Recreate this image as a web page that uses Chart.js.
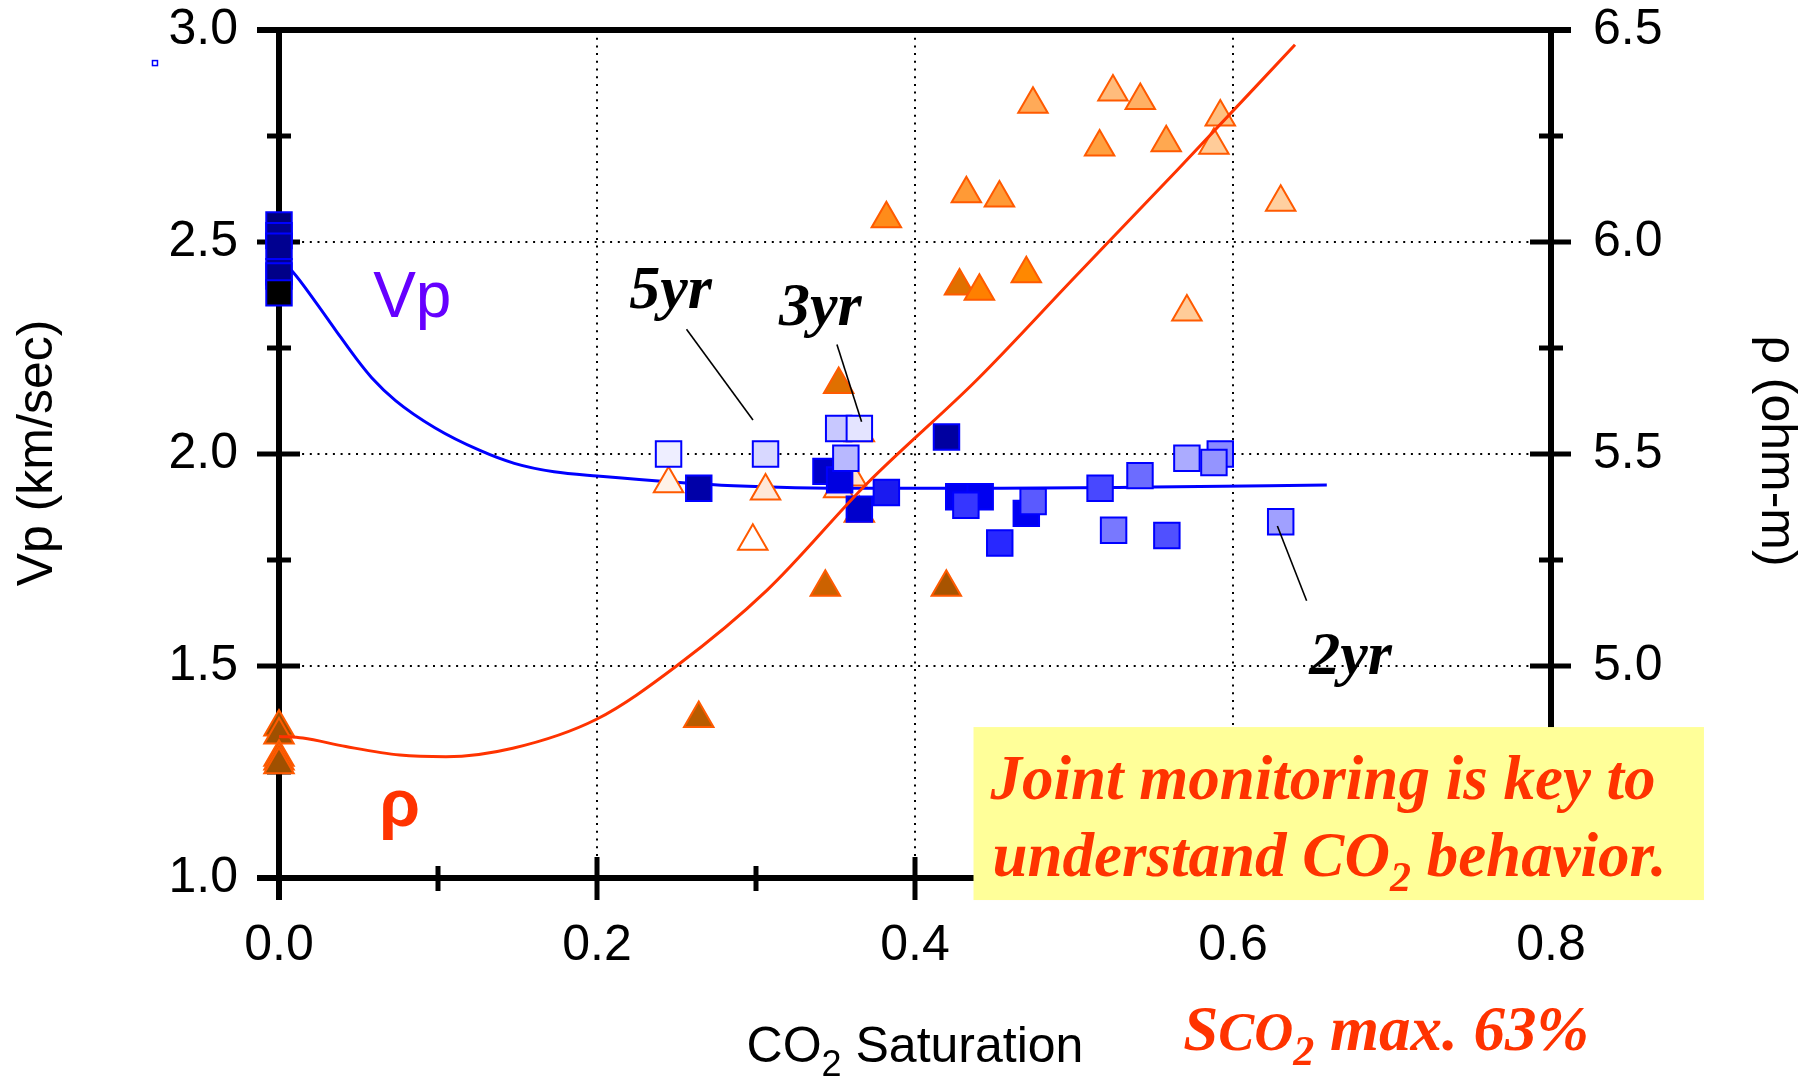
<!DOCTYPE html>
<html>
<head>
<meta charset="utf-8">
<title>Vp and resistivity vs CO2 saturation</title>
<script src="https://cdn.jsdelivr.net/npm/chart.js@4.4.1/dist/chart.umd.min.js"></script>
<style>
  html, body { margin: 0; padding: 0; background: #fff; }
  #wrap { width: 1814px; height: 1077px; }
</style>
</head>
<body>
<div id="wrap"><canvas id="chart" width="1814" height="1077"></canvas></div>
<script>
// ── Data ──────────────────────────────────────────────────────────────────────
// fitted curves
const vpCurveSat = [0, 0.0086, 0.0235, 0.036, 0.0484, 0.0583, 0.0733, 0.098, 0.126, 0.148, 0.173, 0.200, 0.286, 0.370, 0.454, 0.550, 0.659];
const vpCurve    = [2.46, 2.43, 2.356, 2.29, 2.226, 2.18, 2.126, 2.062, 2.009, 1.978, 1.958, 1.948, 1.925, 1.919, 1.919, 1.922, 1.927];
const rhoCurveSat = [0, 0.015, 0.042, 0.076, 0.105, 0.147, 0.200, 0.250, 0.307, 0.370, 0.439, 0.500, 0.565, 0.639];
const rhoCurve    = [4.834, 4.830, 4.810, 4.790, 4.786, 4.806, 4.875, 5.000, 5.179, 5.431, 5.675, 5.915, 6.170, 6.465];

// measured Vp (km/sec), squares
const vpSat = [0, 0, 0, 0, 0, 0,
  0.245, 0.306, 0.352, 0.365, 0.264, 0.344, 0.3526, 0.3565, 0.365, 0.382,
  0.4198, 0.4275, 0.441, 0.432, 0.4533, 0.470, 0.4743, 0.5164, 0.5415, 0.5249,
  0.5584, 0.571, 0.592, 0.588, 0.630];
const vpData = [2.54, 2.515, 2.49, 2.43, 2.42, 2.38,
  2.00, 2.00, 2.06, 2.06, 1.919, 1.959, 1.939, 1.99, 1.87, 1.909,
  2.04, 1.899, 1.899, 1.879, 1.79, 1.86, 1.888, 1.919, 1.949, 1.82,
  1.808, 1.99, 2.00, 1.98, 1.84];

// measured resistivity (ohm-m), triangles
const rhoSat = [0, 0, 0, 0, 0,
  0.245, 0.306, 0.298, 0.352, 0.360, 0.365, 0.365,
  0.3436, 0.4197, 0.264, 0.352, 0.382, 0.4323, 0.4531, 0.4742, 0.5245, 0.5417,
  0.5161, 0.558, 0.592, 0.588, 0.630, 0.428, 0.4405, 0.470, 0.571];
const rhoData = [4.856, 4.837, 4.785, 4.776, 4.767,
  5.430, 5.413, 5.294, 5.418, 5.446, 5.550, 5.360,
  5.186, 5.186, 4.876, 5.664, 6.055, 6.114, 6.104, 6.325, 6.354, 6.334,
  6.224, 6.234, 6.295, 6.228, 6.094, 5.896, 5.884, 5.925, 5.835];

// axes
const xTicks = [0, 0.2, 0.4, 0.6, 0.8];
const xMinor = [0.1, 0.3, 0.5, 0.7];
const vpTicks = [1.0, 1.5, 2.0, 2.5, 3.0];
const vpMinor = [1.25, 1.75, 2.25, 2.75];
const rhoTicks = [4.5, 5.0, 5.5, 6.0, 6.5];
const rhoMinor = [4.75, 5.25, 5.75, 6.25];

// ── Styles ────────────────────────────────────────────────────────────────────
const vpFills = ['#00007A', '#000090', '#000090', '#000090', '#000088', '#000000',
  '#EEEEFF', '#D8D8FF', '#C8C8FF', '#E4E4FF', '#0000A8', '#0000C8', '#0000E0', '#B8B8FF', '#0000CC', '#1A1AF0',
  '#0000A0', '#0000F0', '#0000F0', '#3636FF', '#2828FF', '#0000F0', '#5A5AFF', '#4848FF', '#6C6CFF', '#7878FF',
  '#5050FF', '#ABABFF', '#8A8AFF', '#9494FF', '#A0A0FF'];
const rhoFills = ['#A05000', '#A05000', '#A05000', '#A05000', '#A05000',
  '#FFF2E8', '#FFE8D8', '#FFFFFF', '#FFE8D8', '#FFE4CC', '#FFE4CC', '#FFE4CC',
  '#CC6200', '#A85400', '#B85C00', '#E07000', '#FF8C1A', '#FF9A36', '#FF9A36', '#FFAA58', '#FFBC7C', '#FFB064',
  '#FFA040', '#FFA850', '#FFC080', '#FFCC99', '#FFD0A0', '#E07000', '#FF8000', '#FF8800', '#FFCC99'];

const SANS = '"Liberation Sans", Arial, Helvetica, sans-serif';
const SERIF = '"Liberation Serif", "Times New Roman", serif';
const RED = '#FF3300';

function pts(xs, ys) { return xs.map((v, i) => ({ x: v, y: ys[i] })); }

// ── Frame: dotted grid, heavy axes, crossing ticks ───────────────────────────
const framePlugin = {
  id: 'frame',
  beforeDatasetsDraw(chart) {
    const { ctx, chartArea: a, scales } = chart;
    const sx = scales.x, sy = scales.y, sy2 = scales.y2;
    const seg = (x1, y1, x2, y2) => { ctx.beginPath(); ctx.moveTo(x1, y1); ctx.lineTo(x2, y2); ctx.stroke(); };
    ctx.save();
    ctx.strokeStyle = '#000';

    // dotted grid at interior major ticks
    ctx.lineWidth = 2;
    ctx.setLineDash([2, 5.7]);
    xTicks.slice(1, -1).forEach(v => { const p = Math.round(sx.getPixelForValue(v)); seg(p, a.top, p, a.bottom); });
    vpTicks.slice(1, -1).forEach(v => { const p = Math.round(sy.getPixelForValue(v)); seg(a.left, p, a.right, p); });
    ctx.setLineDash([]);

    // axis lines
    ctx.lineWidth = 6;
    seg(a.left - 22, a.top, a.right + 20, a.top);
    seg(a.left - 22, a.bottom, a.right + 20, a.bottom);
    seg(a.left, a.top, a.left, a.bottom + 22);
    seg(a.right, a.top, a.right, a.bottom + 22);

    // ticks
    ctx.lineWidth = 5;
    vpTicks.forEach(v => { const p = sy.getPixelForValue(v); seg(a.left - 22, p, a.left + 21, p); });
    vpMinor.forEach(v => { const p = sy.getPixelForValue(v); seg(a.left - 12, p, a.left + 12, p); });
    rhoTicks.forEach(v => { const p = sy2.getPixelForValue(v); seg(a.right - 21, p, a.right + 20, p); });
    rhoMinor.forEach(v => { const p = sy2.getPixelForValue(v); seg(a.right - 12, p, a.right + 12, p); });
    xTicks.slice(1, -1).forEach(v => { const p = sx.getPixelForValue(v); seg(p, a.bottom - 21, p, a.bottom + 22); });
    xMinor.forEach(v => { const p = sx.getPixelForValue(v); seg(p, a.bottom - 12, p, a.bottom + 13); });
    ctx.restore();
  }
};

// ── Notes: titles, labels, leaders, yellow box ────────────────────────────────
function drawRuns(ctx, runs, x, y) {
  // runs: [text, font, dy]
  let cx = x;
  runs.forEach(([t, f, dy]) => {
    ctx.font = f;
    ctx.fillText(t, cx, y + dy);
    cx += ctx.measureText(t).width;
  });
  return cx - x;
}
function runsWidth(ctx, runs) {
  let w = 0;
  runs.forEach(([t, f]) => { ctx.font = f; w += ctx.measureText(t).width; });
  return w;
}

const notesPlugin = {
  id: 'notes',
  afterDraw(chart) {
    const { ctx, chartArea: a, scales } = chart;
    const sx = scales.x, sy = scales.y;
    const X = v => sx.getPixelForValue(v), Y = v => sy.getPixelForValue(v);
    ctx.save();
    ctx.textBaseline = 'alphabetic';
    ctx.textAlign = 'left';

    // curve labels
    ctx.fillStyle = '#6600FF';
    ctx.font = '64px ' + SANS;
    ctx.fillText('Vp', X(0.0592), Y(2.323));
    ctx.fillStyle = RED;
    ctx.font = 'bold 66px ' + SANS;
    ctx.fillText('ρ', X(0.063), Y(1.123));

    // year labels and leader lines
    ctx.fillStyle = '#000';
    ctx.font = 'bold italic 62px ' + SERIF;
    ctx.fillText('5yr', X(0.2203), Y(2.344));
    ctx.fillText('3yr', X(0.3144), Y(2.304));
    ctx.fillText('2yr', X(0.648), Y(1.482));
    ctx.strokeStyle = '#000';
    ctx.lineWidth = 1.6;
    [[0.2563, 2.294, 0.2981, 2.080], [0.3509, 2.258, 0.3664, 2.076], [0.6279, 1.830, 0.6463, 1.654]]
      .forEach(([x1, y1, x2, y2]) => { ctx.beginPath(); ctx.moveTo(X(x1), Y(y1)); ctx.lineTo(X(x2), Y(y2)); ctx.stroke(); });

    // stray marker at top left
    ctx.strokeStyle = '#0000FF';
    ctx.lineWidth = 1.5;
    ctx.strokeRect(X(-0.078) - 2.5, Y(2.922) - 2.5, 5, 5);

    // yellow message box
    const bx = X(0.4368), by = Y(1.356), bw = X(0.8962) - bx, bh = Y(0.948) - by;
    ctx.fillStyle = '#FFFF99';
    ctx.fillRect(bx, by, bw, bh);
    ctx.fillStyle = RED;
    const big = 'bold italic 63px ' + SERIF, sub = 'bold italic 42px ' + SERIF;
    ctx.font = big;
    ctx.fillText('Joint monitoring is key to', bx + 17, by + 72);
    drawRuns(ctx, [['understand CO', big, 0], ['2', sub, 15], [' behavior.', big, 0]], bx + 19, by + 149);

    // SCO2 max note
    drawRuns(ctx, [['S', big, 0], ['CO', 'bold italic 54px ' + SERIF, 0], ['2', sub, 15], [' max. 63%', big, 0]],
      X(0.5687), a.bottom + 172);

    // axis titles
    ctx.fillStyle = '#000';
    const tRuns = [['CO', '50px ' + SANS, 0], ['2', '36px ' + SANS, 14], [' Saturation', '50px ' + SANS, 0]];
    const tw = runsWidth(ctx, tRuns);
    drawRuns(ctx, tRuns, (a.left + a.right) / 2 - tw / 2, a.bottom + 184);

    ctx.font = '50px ' + SANS;
    ctx.textAlign = 'center';
    ctx.save();
    ctx.translate(52, (a.top + a.bottom) / 2 - 1);
    ctx.rotate(-Math.PI / 2);
    ctx.fillText('Vp (km/sec)', 0, 0);
    ctx.restore();
    ctx.save();
    ctx.translate(1762, (a.top + a.bottom) / 2 - 3);
    ctx.rotate(Math.PI / 2);
    ctx.fillText('ρ (ohm-m)', 0, 0);
    ctx.restore();

    ctx.restore();
  }
};

// ── Chart ─────────────────────────────────────────────────────────────────────
const tickFont = { family: SANS, size: 50 };
const setTicks = arr => scale => { scale.ticks = arr.map(v => ({ value: v })); };
const fixV = w => s => { s.width = w; s.paddingTop = 0; s.paddingBottom = 0; };
const fixH = h => s => { s.height = h; s.paddingLeft = 0; s.paddingRight = 0; };

new Chart(document.getElementById('chart'), {
  type: 'scatter',
  data: {
    datasets: [
      {
        label: 'ρ fit', data: pts(rhoCurveSat, rhoCurve), yAxisID: 'y2',
        showLine: true, borderColor: RED, borderWidth: 3, pointRadius: 0,
        cubicInterpolationMode: 'monotone', clip: false, order: 0
      },
      {
        label: 'Vp', data: pts(vpSat, vpData), yAxisID: 'y',
        pointStyle: 'rect', pointRadius: 18, pointBackgroundColor: vpFills,
        pointBorderColor: '#0000FF', pointBorderWidth: 2, clip: false, order: 1
      },
      {
        label: 'ρ', data: pts(rhoSat, rhoData), yAxisID: 'y2',
        pointStyle: 'triangle', pointRadius: 17, pointBackgroundColor: rhoFills,
        pointBorderColor: '#FF5A00', pointBorderWidth: 2, clip: false, order: 2
      },
      {
        label: 'Vp fit', data: pts(vpCurveSat, vpCurve), yAxisID: 'y',
        showLine: true, borderColor: '#0000FF', borderWidth: 3, pointRadius: 0,
        cubicInterpolationMode: 'monotone', clip: false, order: 3
      }
    ]
  },
  options: {
    responsive: false,
    animation: false,
    devicePixelRatio: 1,
    layout: { padding: { top: 30, left: 0, right: 0, bottom: 0 } },
    plugins: { legend: { display: false }, tooltip: { enabled: false } },
    scales: {
      x: {
        type: 'linear', position: 'bottom', min: 0, max: 0.8,
        afterBuildTicks: setTicks(xTicks),
        afterFit: fixH(199),
        grid: { display: false, drawTicks: false },
        border: { display: false },
        ticks: { font: tickFont, color: '#000', padding: 38, maxRotation: 0, autoSkip: false,
                 callback: v => Number(v).toFixed(1) }
      },
      y: {
        type: 'linear', position: 'left', min: 1, max: 3,
        afterBuildTicks: setTicks(vpTicks),
        afterFit: fixV(279),
        grid: { display: false, drawTicks: false },
        border: { display: false },
        ticks: { font: tickFont, color: '#000', padding: 41, callback: v => Number(v).toFixed(1) }
      },
      y2: {
        type: 'linear', position: 'right', min: 4.5, max: 6.5,
        afterBuildTicks: setTicks(rhoTicks),
        afterFit: fixV(263),
        grid: { display: false, drawTicks: false },
        border: { display: false },
        ticks: { font: tickFont, color: '#000', padding: 42, callback: v => Number(v).toFixed(1) }
      }
    }
  },
  plugins: [framePlugin, notesPlugin]
});
</script>
</body>
</html>
